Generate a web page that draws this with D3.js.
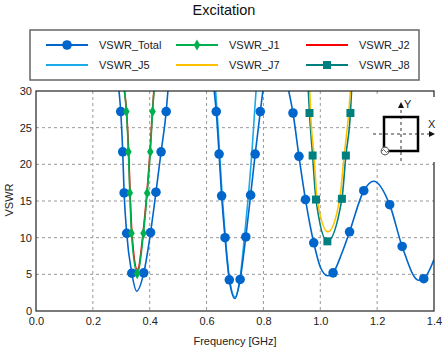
<!DOCTYPE html>
<html><head><meta charset="utf-8">
<script src="https://cdn.jsdelivr.net/npm/d3@7"></script>
<style>
html,body{margin:0;padding:0;background:#fff;}
svg{display:block;font-family:"Liberation Sans",Arial,sans-serif;}
</style></head>
<body><svg id="c" width="444" height="350"></svg>
<script>
const freqTicks = [0.0, 0.2, 0.4, 0.6, 0.8, 1.0, 1.2, 1.4];
const vswrTicks = [0, 5, 10, 15, 20, 25, 30];
const seriesNames = ["VSWR_Total", "VSWR_J1", "VSWR_J2", "VSWR_J5", "VSWR_J7", "VSWR_J8"];

const vswrTotal = [
  [0.292,30],[0.298,27.2],[0.305,21.7],[0.310,16.1],[0.319,10.6],[0.337,5.15],[0.354,2.7],[0.379,5.2],[0.403,10.7],[0.422,16.2],[0.440,21.7],[0.458,27.2],[0.464,30], null,
  [0.627,30],[0.634,27.2],[0.644,21.4],[0.653,15.7],[0.665,10.0],[0.680,4.25],[0.700,1.7],[0.718,4.3],[0.738,10.1],[0.755,15.8],[0.771,21.4],[0.789,27.2],[0.798,30], null,
  [0.889,30],[0.904,27.0],[0.925,21.1],[0.948,15.2],[0.977,9.3],[1.000,6.0],[1.026,4.8],[1.045,5.2],[1.075,7.8],[1.103,10.8],[1.153,16.4],[1.188,17.7],[1.244,14.5],[1.288,8.8],[1.346,4.2],[1.364,4.4],[1.400,7.0]
];
const vswrTotalMarkers = [
  [0.298,27.2],[0.305,21.7],[0.310,16.1],[0.319,10.6],[0.337,5.15],[0.379,5.2],[0.403,10.7],[0.422,16.2],[0.440,21.7],[0.458,27.2],
  [0.634,27.2],[0.644,21.4],[0.653,15.7],[0.665,10.0],[0.680,4.25],[0.718,4.3],[0.738,10.1],[0.755,15.8],[0.771,21.4],[0.789,27.2],
  [0.904,27.0],[0.925,21.1],[0.948,15.2],[0.977,9.3],[1.045,5.2],[1.103,10.8],[1.153,16.4],[1.244,14.5],[1.288,8.8],[1.364,4.4]
];
const vswrJ1 = [[0.311,30],[0.318,27.2],[0.325,21.7],[0.330,16.1],[0.336,10.6],[0.356,5.1],[0.378,10.6],[0.391,16.1],[0.402,21.7],[0.410,27.2],[0.415,30]];
const vswrJ1Markers = [[0.318,27.2],[0.325,21.7],[0.330,16.1],[0.336,10.6],[0.356,5.1],[0.378,10.6],[0.391,16.1],[0.402,21.7],[0.410,27.2]];
const vswrJ2 = [[0.3115,30],[0.3185,27.2],[0.326,21.7],[0.331,16.1],[0.3375,10.6],[0.357,5.6],[0.3765,10.6],[0.390,16.1],[0.401,21.7],[0.4095,27.2],[0.4145,30]];
const vswrJ5 = [[0.632,30],[0.637,27.2],[0.646,21.4],[0.655,15.7],[0.666,10.0],[0.681,4.3],[0.700,1.9],[0.717,4.3],[0.733,10.0],[0.747,15.7],[0.759,21.4],[0.769,27.2],[0.774,30]];
const vswrJ7 = [[0.963,30],[0.966,27.0],[0.978,21.2],[0.989,15.2],[1.027,10.8],[1.068,15.2],[1.084,21.2],[1.100,27.0],[1.106,30]];
const vswrJ8 = [[0.958,30],[0.962,27.0],[0.973,21.2],[0.985,15.2],[1.025,9.5],[1.076,15.3],[1.090,21.2],[1.106,27.0],[1.110,30]];
const vswrJ8Markers = [[0.962,27.0],[0.973,21.2],[0.985,15.2],[1.025,9.5],[1.076,15.3],[1.090,21.2],[1.106,27.0]];

const colors = {Total:"#0066cc", J1:"#00b04f", J2:"#ff0000", J5:"#1aaae8", J7:"#ffc000", J8:"#007f7f"};

const svg = d3.select("#c");
const L = 36, R = 434, T = 91, B = 311;
const x = d3.scaleLinear().domain([0, 1.4]).range([L, R]);
const y = d3.scaleLinear().domain([0, 30]).range([B, T]);

// title
svg.append("text").attr("x", 224).attr("y", 15).attr("text-anchor", "middle")
  .attr("font-size", 14.5).attr("fill", "#111").text("Excitation");

// grid
const grid = svg.append("g").attr("stroke", "#999").attr("stroke-dasharray", "3,3").attr("stroke-width", 1);
freqTicks.slice(1, -1).forEach(f => grid.append("line").attr("x1", x(f)).attr("x2", x(f)).attr("y1", T).attr("y2", B));
vswrTicks.slice(1, -1).forEach(v => grid.append("line").attr("x1", L).attr("x2", R).attr("y1", y(v)).attr("y2", y(v)));

// axes
const xAxis = d3.axisBottom(x).tickValues(freqTicks).tickFormat(d3.format(".1f")).tickSize(0).tickPadding(6);
const yAxis = d3.axisLeft(y).tickValues(vswrTicks).tickFormat(d3.format("d")).tickSize(0).tickPadding(4);
const gx = svg.append("g").attr("transform", `translate(0,${B})`).call(xAxis);
const gy = svg.append("g").attr("transform", `translate(${L},0)`).call(yAxis);
[gx, gy].forEach(g => {
  g.select(".domain").remove();
  g.selectAll("text").attr("font-size", 11).attr("fill", "#222").attr("font-family", "Liberation Sans, Arial, sans-serif");
});
gy.selectAll("text").attr("dy", "0.32em");

svg.append("text").attr("x", 235).attr("y", 345).attr("text-anchor", "middle").attr("font-size", 11).attr("fill", "#222").text("Frequency [GHz]");
svg.append("text").attr("transform", "translate(13,200) rotate(-90)").attr("text-anchor", "middle").attr("font-size", 11).attr("fill", "#222").text("VSWR");

// clip
svg.append("clipPath").attr("id", "clip").append("rect").attr("x", L).attr("y", T).attr("width", R - L).attr("height", B - T);

const line = d3.line().defined(d => d != null).x(d => x(d[0])).y(d => y(d[1])).curve(d3.curveMonotoneX);
const plot = svg.append("g").attr("clip-path", "url(#clip)");
function drawLine(data, color) {
  plot.append("path").attr("d", line(data)).attr("fill", "none").attr("stroke", color).attr("stroke-width", 1.6);
}
drawLine(vswrJ8, colors.J8);
drawLine(vswrJ7, colors.J7);
drawLine(vswrJ5, colors.J5);
drawLine(vswrTotal, colors.Total);
drawLine(vswrJ2, colors.J2);
drawLine(vswrJ1, colors.J1);

const circ = d3.symbol().type(d3.symbolCircle).size(72);
const diam = d3.symbol().type(d3.symbolDiamond).size(36);
const sq = d3.symbol().type(d3.symbolSquare).size(64);
function drawMarkers(data, sym, color) {
  plot.selectAll(null).data(data).join("path")
    .attr("transform", d => `translate(${x(d[0])},${y(d[1])})`)
    .attr("d", sym).attr("fill", color);
}
drawMarkers(vswrTotalMarkers, circ, colors.Total);
drawMarkers(vswrJ8Markers, sq, colors.J8);
drawMarkers(vswrJ1Markers, diam, colors.J1);

// frame
svg.append("rect").attr("x", L).attr("y", T).attr("width", R - L).attr("height", B - T).attr("fill", "none").attr("stroke", "#222").attr("stroke-width", 1.2);

// inset (coordinate system icon)
const ins = svg.append("g");
ins.append("rect").attr("x", 372).attr("y", 97).attr("width", 72).attr("height", 65).attr("fill", "#fff");
const adash = "3,3";
ins.append("line").attr("x1", 401).attr("x2", 401).attr("y1", 161).attr("y2", 107).attr("stroke", "#333").attr("stroke-dasharray", adash);
ins.append("path").attr("d", "M401,102 L398,108 L404,108 Z").attr("fill", "#111");
ins.append("line").attr("x1", 373).attr("x2", 430).attr("y1", 134).attr("y2", 134).attr("stroke", "#333").attr("stroke-dasharray", adash);
ins.append("path").attr("d", "M435,134 L429,131 L429,137 Z").attr("fill", "#111");
ins.append("rect").attr("x", 384).attr("y", 117).attr("width", 34).attr("height", 34).attr("fill", "none").attr("stroke", "#000").attr("stroke-width", 2.5);
ins.append("circle").attr("cx", 385).attr("cy", 151).attr("r", 3.8).attr("fill", "#fff").attr("stroke", "#666").attr("stroke-width", 1.2);
ins.append("path").attr("d", "M382,151 q1.5,-3 3,0 t3,0").attr("fill", "none").attr("stroke", "#666").attr("stroke-width", 1);
ins.append("text").attr("x", 404).attr("y", 108).attr("font-size", 11).attr("fill", "#222").text("Y");
ins.append("text").attr("x", 428).attr("y", 128).attr("font-size", 11).attr("fill", "#222").text("X");

// legend
const lg = svg.append("g");
lg.append("rect").attr("x", 30).attr("y", 30).attr("width", 389).attr("height", 50).attr("fill", "#fff").attr("stroke", "#666").attr("stroke-width", 1.5);
const legendItems = [
  {name: seriesNames[0], color: colors.Total, sym: circ, col: 0, row: 0},
  {name: seriesNames[1], color: colors.J1, sym: diam, col: 1, row: 0},
  {name: seriesNames[2], color: colors.J2, sym: null, col: 2, row: 0},
  {name: seriesNames[3], color: colors.J5, sym: null, col: 0, row: 1},
  {name: seriesNames[4], color: colors.J7, sym: null, col: 1, row: 1},
  {name: seriesNames[5], color: colors.J8, sym: sq, col: 2, row: 1}
];
const colX = [46, 176, 306], rowY = [45, 65];
legendItems.forEach(it => {
  const x0 = colX[it.col], yy = rowY[it.row];
  lg.append("line").attr("x1", x0).attr("x2", x0 + 42).attr("y1", yy).attr("y2", yy).attr("stroke", it.color).attr("stroke-width", 1.8);
  if (it.sym) lg.append("path").attr("transform", `translate(${x0 + 21},${yy})`).attr("d", it.sym).attr("fill", it.color);
  lg.append("text").attr("x", x0 + 53).attr("y", yy + 4).attr("font-size", 11).attr("fill", "#222").text(it.name);
});
</script></body></html>
